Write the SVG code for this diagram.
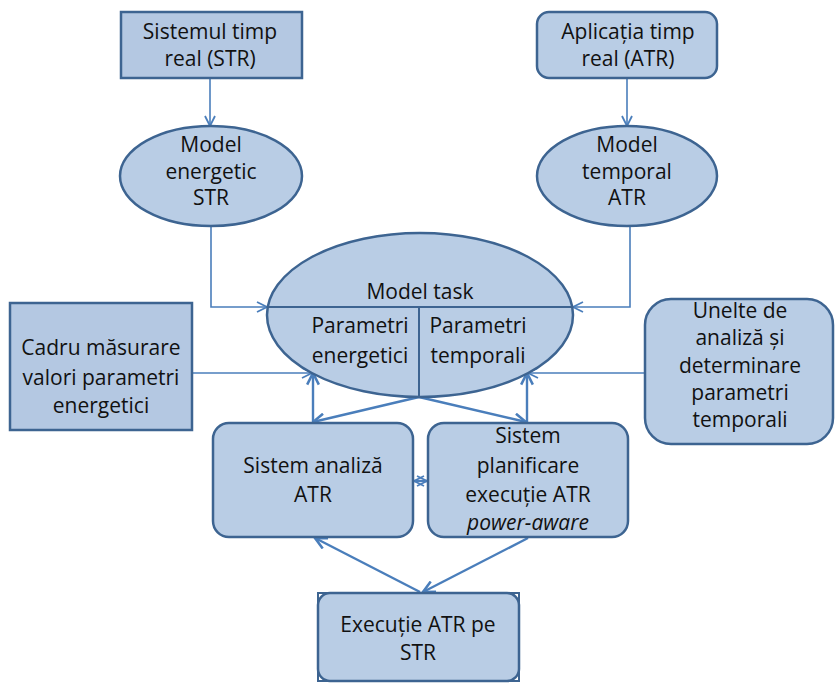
<svg xmlns="http://www.w3.org/2000/svg" width="835" height="683" viewBox="0 0 835 683">
  <defs>
    <style>
      .box { fill: #b9cde5; stroke: #3d6491; stroke-width: 2.5; }
      .box2 { fill: #b4c8e2; stroke: #3d6491; stroke-width: 2.5; }
      .div { fill: none; stroke: #3d6491; stroke-width: 2; }
      .t { font-family: "Open Sans", "Liberation Sans", sans-serif; font-size: 21px; fill: #111; text-anchor: middle; }
      .it { font-style: italic; }
      .c { fill: none; stroke: #4a7ebb; stroke-width: 1.6; }
      .c2 { fill: none; stroke: #4a7ebb; stroke-width: 2.4; }
    </style>
    <marker id="arr" viewBox="0 0 12 12" refX="11" refY="6" markerWidth="12" markerHeight="12" markerUnits="userSpaceOnUse" orient="auto-start-reverse">
      <path d="M1,1 L11,6 L1,11" fill="none" stroke="#4a7ebb" stroke-width="1.8"/>
    </marker>
    <marker id="arr2" viewBox="0 0 12 12" refX="11" refY="6" markerWidth="14" markerHeight="14" markerUnits="userSpaceOnUse" orient="auto-start-reverse">
      <path d="M1,1 L11,6 L1,11" fill="none" stroke="#4a7ebb" stroke-width="2.2"/>
    </marker>
  </defs>

  <!-- connectors -->
  <g id="connectors">
    <line class="c" x1="210" y1="79" x2="210" y2="126" marker-end="url(#arr)"/>
    <line class="c" x1="627" y1="79" x2="627" y2="126" marker-end="url(#arr)"/>
    <polyline class="c" points="211,226 211,307 267,307" marker-end="url(#arr)"/>
    <polyline class="c" points="630,226 630,307 573,307" marker-end="url(#arr)"/>
    <line class="c" x1="192" y1="373" x2="312" y2="373" marker-end="url(#arr)"/>
    <line class="c" x1="645" y1="373" x2="528" y2="373" marker-end="url(#arr)"/>
    <line class="c2" x1="313" y1="423" x2="313" y2="373" marker-end="url(#arr2)"/>
    <line class="c2" x1="527" y1="423" x2="527" y2="373" marker-end="url(#arr2)"/>
    <line class="c2" x1="419" y1="397" x2="313" y2="422" marker-end="url(#arr2)"/>
    <line class="c2" x1="419" y1="397" x2="526" y2="422" marker-end="url(#arr2)"/>
    <line class="c2" x1="414" y1="481" x2="427" y2="481" marker-start="url(#arr)" marker-end="url(#arr)"/>
    <line class="c2" x1="420" y1="592" x2="315" y2="538" marker-end="url(#arr2)"/>
    <line class="c2" x1="528" y1="538" x2="423" y2="592" marker-end="url(#arr2)"/>
  </g>

  <!-- top left: real-time system -->
  <g id="str">
    <rect class="box2" x="121" y="12" width="181" height="66"/>
    <text class="t" x="210" y="39">Sistemul timp</text>
    <text class="t" x="210" y="66">real (STR)</text>
  </g>

  <!-- top right: real-time application -->
  <g id="atr">
    <rect class="box" x="537" y="12" width="180" height="66" rx="12"/>
    <text class="t" x="628" y="39">Aplicația timp</text>
    <text class="t" x="628" y="66">real (ATR)</text>
  </g>

  <!-- energy model -->
  <g id="model-energetic">
    <ellipse class="box" cx="211" cy="176" rx="91" ry="50"/>
    <text class="t" x="211" y="152">Model</text>
    <text class="t" x="211" y="179">energetic</text>
    <text class="t" x="211" y="205">STR</text>
  </g>

  <!-- temporal model -->
  <g id="model-temporal">
    <ellipse class="box" cx="627" cy="176" rx="90" ry="50"/>
    <text class="t" x="627" y="152">Model</text>
    <text class="t" x="627" y="179">temporal</text>
    <text class="t" x="627" y="205">ATR</text>
  </g>

  <!-- task model -->
  <g id="model-task">
    <ellipse class="box" cx="420" cy="315" rx="153" ry="82"/>
    <line class="div" x1="268" y1="307" x2="572" y2="307"/>
    <line class="div" x1="419" y1="307" x2="419" y2="397"/>
    <text class="t" x="420" y="299">Model task</text>
    <text class="t" x="360" y="333">Parametri</text>
    <text class="t" x="360" y="363">energetici</text>
    <text class="t" x="478" y="333">Parametri</text>
    <text class="t" x="478" y="363">temporali</text>
  </g>

  <!-- energy measurement framework -->
  <g id="cadru">
    <rect class="box2" x="10" y="303" width="182" height="127"/>
    <text class="t" x="101" y="355">Cadru măsurare</text>
    <text class="t" x="101" y="385">valori parametri</text>
    <text class="t" x="101" y="413">energetici</text>
  </g>

  <!-- timing analysis tools -->
  <g id="unelte">
    <rect class="box" x="645" y="299" width="188" height="145" rx="26"/>
    <text class="t" x="740" y="318">Unelte de</text>
    <text class="t" x="740" y="345">analiză și</text>
    <text class="t" x="740" y="373">determinare</text>
    <text class="t" x="740" y="400">parametri</text>
    <text class="t" x="740" y="427">temporali</text>
  </g>

  <!-- analysis system -->
  <g id="analiza">
    <rect class="box" x="213" y="423" width="200" height="114" rx="16"/>
    <text class="t" x="313" y="473">Sistem analiză</text>
    <text class="t" x="313" y="502">ATR</text>
  </g>

  <!-- scheduling system -->
  <g id="planificare">
    <rect class="box" x="428" y="423" width="200" height="114" rx="16"/>
    <text class="t" x="528" y="443">Sistem</text>
    <text class="t" x="528" y="473">planificare</text>
    <text class="t" x="528" y="502">execuție ATR</text>
    <text class="t it" x="528" y="530">power-aware</text>
  </g>

  <!-- execution -->
  <g id="executie">
    <rect fill="none" stroke="#3d6491" stroke-width="2" x="318" y="593" width="201" height="88"/>
    <rect class="box" x="318" y="593" width="201" height="88" rx="12"/>
    <text class="t" x="418" y="632">Execuție ATR pe</text>
    <text class="t" x="418" y="660">STR</text>
  </g>
</svg>
